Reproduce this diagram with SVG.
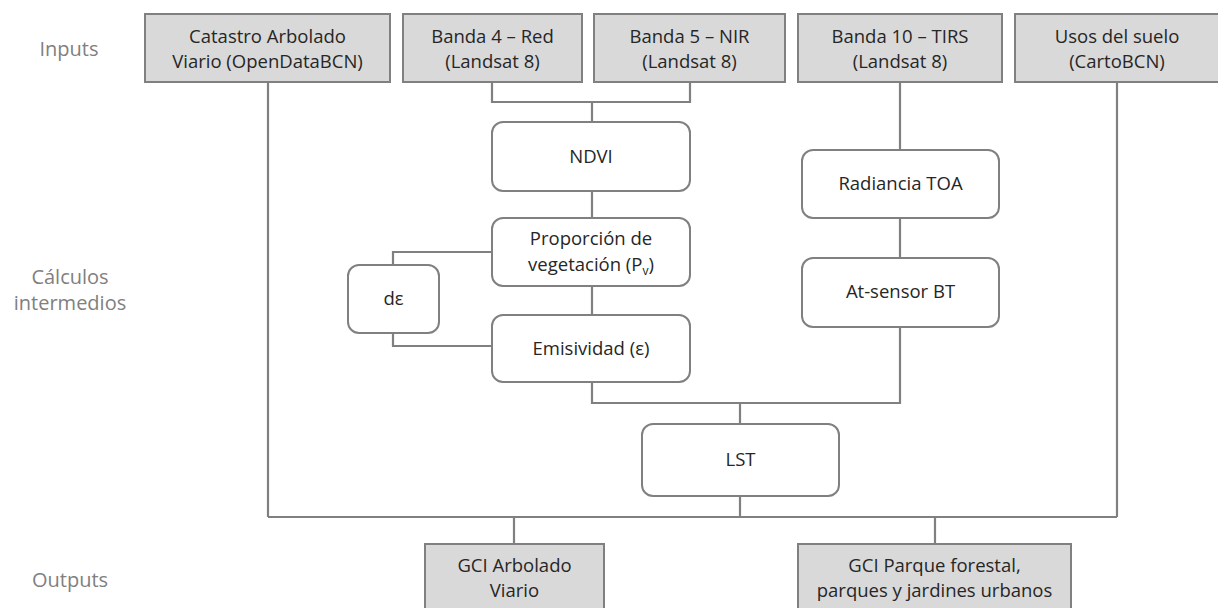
<svg xmlns="http://www.w3.org/2000/svg" width="1218" height="608" viewBox="0 0 1218 608">
<style>
.in{fill:#d9d9d9;stroke:#808080;stroke-width:2}
.rb{fill:#ffffff;stroke:#808080;stroke-width:2}
.t{font-family:"Open Sans","Liberation Sans",sans-serif;font-size:18.5px;fill:#262626;text-anchor:middle}
.lb{font-family:"Open Sans","Liberation Sans",sans-serif;font-size:20px;fill:#808080;text-anchor:middle}
.c{fill:none;stroke:#808080;stroke-width:2.2}
</style>
<rect width="1218" height="608" fill="#ffffff"/>
<g id="labels">
<text class="lb" x="69" y="56">Inputs</text>
<text class="lb" x="70" y="284">Cálculos</text>
<text class="lb" x="70" y="310">intermedios</text>
<text class="lb" x="70" y="587">Outputs</text>
</g>
<g id="connectors">
<path class="c" d="M268 82V517M1117 82V517M268 517H1117"/>
<path class="c" d="M492 82V102H690V82M592 102V122"/>
<path class="c" d="M592 191V218M592 286V315M592 382V403H900V327M900 82V150M900 218V258"/>
<path class="c" d="M492 252H393V265M393 333V346H492"/>
<path class="c" d="M740 403V424M740 496V517M514 517V544M935 517V544"/>
</g>
<g id="n-catastro"><rect class="in" x="145" y="14" width="245" height="68"/><text class="t" x="267.5" y="43">Catastro Arbolado</text><text class="t" x="267.5" y="68">Viario (OpenDataBCN)</text></g>
<g id="n-banda4"><rect class="in" x="403" y="14" width="179" height="68"/><text class="t" x="492.5" y="43">Banda 4 – Red</text><text class="t" x="492.5" y="68">(Landsat 8)</text></g>
<g id="n-banda5"><rect class="in" x="594" y="14" width="191" height="68"/><text class="t" x="689.5" y="43">Banda 5 – NIR</text><text class="t" x="689.5" y="68">(Landsat 8)</text></g>
<g id="n-banda10"><rect class="in" x="798" y="14" width="204" height="68"/><text class="t" x="900" y="43">Banda 10 – TIRS</text><text class="t" x="900" y="68">(Landsat 8)</text></g>
<g id="n-usos"><rect class="in" x="1015" y="14" width="204" height="68"/><text class="t" x="1117" y="43">Usos del suelo</text><text class="t" x="1117" y="68">(CartoBCN)</text></g>
<g id="n-ndvi"><rect class="rb" x="492" y="122" width="198" height="69" rx="11"/><text class="t" x="591" y="163">NDVI</text></g>
<g id="n-pv"><rect class="rb" x="492" y="218" width="198" height="68" rx="11"/><text class="t" x="591" y="245">Proporción de</text><text class="t" x="591" y="271">vegetación (P<tspan font-size="12" dy="4">v</tspan><tspan dy="-4">)</tspan></text></g>
<g id="n-de"><rect class="rb" x="348" y="265" width="91" height="68" rx="11"/><text class="t" x="393.5" y="305">dε</text></g>
<g id="n-emis"><rect class="rb" x="492" y="315" width="198" height="67" rx="11"/><text class="t" x="591" y="355">Emisividad (ε)</text></g>
<g id="n-rad"><rect class="rb" x="802" y="150" width="197" height="68" rx="11"/><text class="t" x="900.5" y="190">Radiancia TOA</text></g>
<g id="n-bt"><rect class="rb" x="802" y="258" width="197" height="69" rx="11"/><text class="t" x="900.5" y="298">At-sensor BT</text></g>
<g id="n-lst"><rect class="rb" x="642" y="424" width="197" height="72" rx="11"/><text class="t" x="740.5" y="466">LST</text></g>
<g id="n-gci-arb"><rect class="in" x="425" y="544" width="179" height="72"/><text class="t" x="514.5" y="572">GCI Arbolado</text><text class="t" x="514.5" y="597">Viario</text></g>
<g id="n-gci-par"><rect class="in" x="798" y="544" width="273" height="72"/><text class="t" x="934.5" y="572">GCI Parque forestal,</text><text class="t" x="934.5" y="597">parques y jardines urbanos</text></g>
</svg>
